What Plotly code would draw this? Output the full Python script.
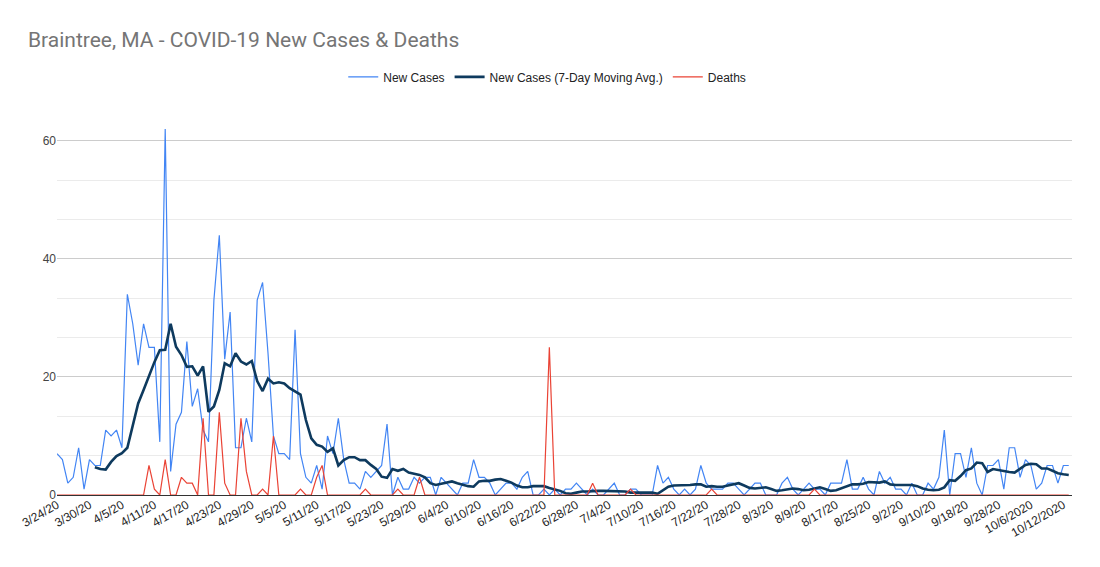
import pandas as pd
import plotly.graph_objects as go

# ---------------- data ----------------
daily_dates = pd.date_range("2020-03-24", "2020-08-09", freq="D")
later_dates = [
    "8/10/20", "8/11/20", "8/12/20", "8/13/20", "8/14/20", "8/17/20",
    "8/18/20", "8/19/20", "8/20/20", "8/21/20", "8/24/20", "8/25/20",
    "8/26/20", "8/27/20", "8/28/20", "8/31/20", "9/1/20", "9/2/20",
    "9/3/20", "9/4/20", "9/7/20", "9/8/20", "9/9/20", "9/10/20",
    "9/11/20", "9/14/20", "9/15/20", "9/16/20", "9/17/20", "9/18/20",
    "9/21/20", "9/22/20", "9/23/20", "9/24/20", "9/25/20", "9/28/20",
    "9/29/20", "9/30/20", "10/1/20", "10/2/20", "10/5/20", "10/6/2020",
    "10/7/2020", "10/8/2020", "10/9/2020", "10/10/2020", "10/11/2020", "10/12/2020",
    "10/13/2020",
]
dates = [f"{d.month}/{d.day}/20" for d in daily_dates] + later_dates

new_cases = [
    7, 6, 2, 3, 8, 1, 6, 5, 5, 11,
    10, 11, 8, 34, 29, 22, 29, 25, 25, 9,
    62, 4, 12, 14, 26, 15, 18, 11, 9, 33,
    44, 23, 31, 8, 8, 13, 9, 33, 36, 24,
    10, 7, 7, 6, 28, 7, 3, 2, 5, 1,
    10, 7, 13, 6, 2, 2, 1, 4, 3, 4,
    5, 12, 0, 3, 1, 1, 3, 2, 3, 3,
    0, 3, 2, 1, 0, 2, 2, 6, 3, 3,
    2, 0, 1, 2, 2, 1, 3, 4, 0, 0,
    1, 0, 1, 0, 1, 1, 2, 1, 0, 1,
    0, 0, 1, 2, 0, 0, 1, 1, 0, 0,
    0, 5, 2, 3, 1, 0, 1, 0, 1, 5,
    2, 1, 1, 1, 2, 2, 1, 0, 1, 2,
    2, 0, 0, 0, 2, 3, 1, 0, 1, 2,
    1, 1, 0, 2, 2, 2, 6, 1, 1, 3,
    1, 0, 4, 2, 3, 1, 1, 0, 2, 0,
    0, 2, 1, 3, 11, 0, 7, 7, 3, 8,
    2, 0, 5, 5, 6, 1, 8, 8, 3, 6,
    5, 1, 2, 5, 5, 2, 5, 5,
]

moving_avg = [
    None, None, None, None, None, None, None, 4.7, 4.4, 4.3,
    5.6, 6.6, 7.1, 8.0, 11.6, 15.5, 17.8, 20.3, 22.5, 24.5,
    24.6, 29.0, 25.1, 23.7, 21.7, 21.8, 20.2, 21.8, 14.1, 15.0,
    17.8, 22.3, 21.8, 24.0, 22.6, 22.1, 22.7, 19.3, 17.6, 19.7,
    18.9, 19.1, 18.9, 18.1, 17.6, 17.0, 12.7, 9.6, 8.5, 8.2,
    7.3, 7.9, 5.0, 5.9, 6.4, 6.4, 5.9, 5.9, 5.1, 4.4,
    3.1, 2.9, 4.4, 4.1, 4.4, 3.8, 3.6, 3.4, 3.0, 2.0,
    1.7, 1.9, 2.1, 2.3, 2.0, 1.7, 1.5, 1.4, 2.3, 2.4,
    2.4, 2.6, 2.7, 2.4, 2.1, 1.6, 1.3, 1.3, 1.5, 1.5,
    1.5, 1.2, 1.0, 0.7, 0.3, 0.2, 0.4, 0.6, 0.6, 0.7,
    0.7, 0.7, 0.7, 0.7, 0.6, 0.6, 0.4, 0.4, 0.4, 0.4,
    0.4, 0.2, 0.8, 1.4, 1.6, 1.6, 1.6, 1.7, 1.8, 1.8,
    1.4, 1.5, 1.4, 1.4, 1.6, 1.8, 2.0, 1.6, 1.2, 1.1,
    1.2, 1.3, 1.0, 0.7, 0.8, 1.0, 1.1, 1.0, 0.8, 0.9,
    1.1, 1.3, 1.0, 0.7, 0.8, 1.1, 1.4, 1.8, 1.8, 1.9,
    2.2, 2.2, 2.1, 2.3, 1.8, 1.7, 1.7, 1.7, 1.7, 1.5,
    1.1, 0.9, 0.8, 0.9, 1.3, 2.5, 2.4, 3.2, 4.2, 4.5,
    5.5, 5.4, 3.9, 4.4, 4.2, 4.0, 3.9, 3.8, 4.5, 5.1,
    5.3, 5.2, 4.5, 4.5, 4.1, 3.7, 3.5, 3.4,
]

deaths = [
    0, 0, 0, 0, 0, 0, 0, 0, 0, 0,
    0, 0, 0, 0, 0, 0, 0, 5, 1, 0,
    6, 0, 0, 3, 2, 2, 0, 13, 0, 0,
    14, 2, 0, 0, 13, 4, 0, 0, 1, 0,
    10, 0, 0, 0, 0, 1, 0, 0, 3, 5,
    0, 0, 0, 0, 0, 0, 0, 1, 0, 0,
    0, 0, 0, 1, 0, 0, 0, 3, 0, 0,
    0, 0, 0, 0, 0, 0, 0, 0, 0, 0,
    0, 0, 0, 0, 0, 0, 0, 0, 0, 0,
    0, 25, 0, 0, 0, 0, 0, 0, 0, 2,
    0, 0, 0, 0, 0, 0, 1, 0, 0, 0,
    0, 0, 0, 0, 0, 0, 0, 0, 0, 0,
    0, 1, 0, 0, 0, 0, 0, 0, 0, 0,
    0, 0, 0, 0, 0, 0, 0, 0, 0, 0,
    1, 0, 0, 0, 0, 0, 0, 0, 0, 0,
    0, 0, 0, 0, 0, 0, 0, 0, 0, 0,
    0, 0, 0, 0, 0, 0, 0, 0, 0, 0,
    0, 0, 0, 0, 0, 0, 0, 0, 0, 0,
    0, 0, 0, 0, 0, 0, 0, 0,
]

tick_labels = [
    "3/24/20", "3/30/20", "4/5/20", "4/11/20", "4/17/20", "4/23/20", "4/29/20",
    "5/5/20", "5/11/20", "5/17/20", "5/23/20", "5/29/20", "6/4/20", "6/10/20",
    "6/16/20", "6/22/20", "6/28/20", "7/4/20", "7/10/20", "7/16/20", "7/22/20",
    "7/28/20", "8/3/20", "8/9/20", "8/17/20", "8/25/20", "9/2/20", "9/10/20",
    "9/18/20", "9/28/20", "10/6/2020", "10/12/2020",
]
tick_positions = [dates[i] for i in range(0, len(dates), 6)]

# ---------------- figure ----------------
TITLE_FONT = "Roboto, Arial, sans-serif"
FONT = "Arial, 'Liberation Sans', sans-serif"
fig = go.Figure()
fig.add_trace(go.Scatter(x=dates, y=new_cases, name="New Cases", mode="lines",
                         line=dict(color="#4285F4", width=1.2)))
fig.add_trace(go.Scatter(x=dates, y=moving_avg, name="New Cases (7-Day Moving Avg.)",
                         mode="lines", line=dict(color="#0E3A5E", width=2.6)))
fig.add_trace(go.Scatter(x=dates, y=deaths, name="Deaths", mode="lines",
                         line=dict(color="#EA4335", width=1.2)))

# the page body adds an 8px offset, so margins are shifted to compensate
fig.update_layout(
    width=1100, height=567,
    margin=dict(l=49, r=36, t=115, b=80),
    paper_bgcolor="white", plot_bgcolor="white",
    font=dict(family=FONT, size=12, color="#222222"),
    title=dict(text="Braintree, MA - COVID-19 New Cases & Deaths",
               x=20 / 1100, xanchor="left", y=1 - 32 / 567, yanchor="middle",
               font=dict(family=TITLE_FONT, size=21, color="#757575")),
    legend=dict(orientation="h", x=0.483, xanchor="center", y=1.124, yanchor="middle",
                font=dict(family=FONT, size=12, color="#222222"), itemwidth=30),
    showlegend=True,
)
fig.update_xaxes(
    type="category", categoryorder="array", categoryarray=dates,
    range=[0, 187.6], tickmode="array", tickvals=tick_positions, ticktext=tick_labels,
    tickangle=-30, showgrid=False, showline=False, ticks="",
    tickfont=dict(family=FONT, size=12, color="#222222"),
)
fig.update_yaxes(
    range=[0, 63], tickmode="linear", tick0=0, dtick=20,
    showgrid=True, gridcolor="#CCCCCC", gridwidth=1,
    zeroline=True, zerolinecolor="#333333", zerolinewidth=1,
    minor=dict(tick0=0, dtick=20 / 3, showgrid=True, gridcolor="#EBEBEB", gridwidth=1),
    tickfont=dict(family=FONT, size=12, color="#444444"), ticks="", showline=False,
)

fig.write_html("out.html")
